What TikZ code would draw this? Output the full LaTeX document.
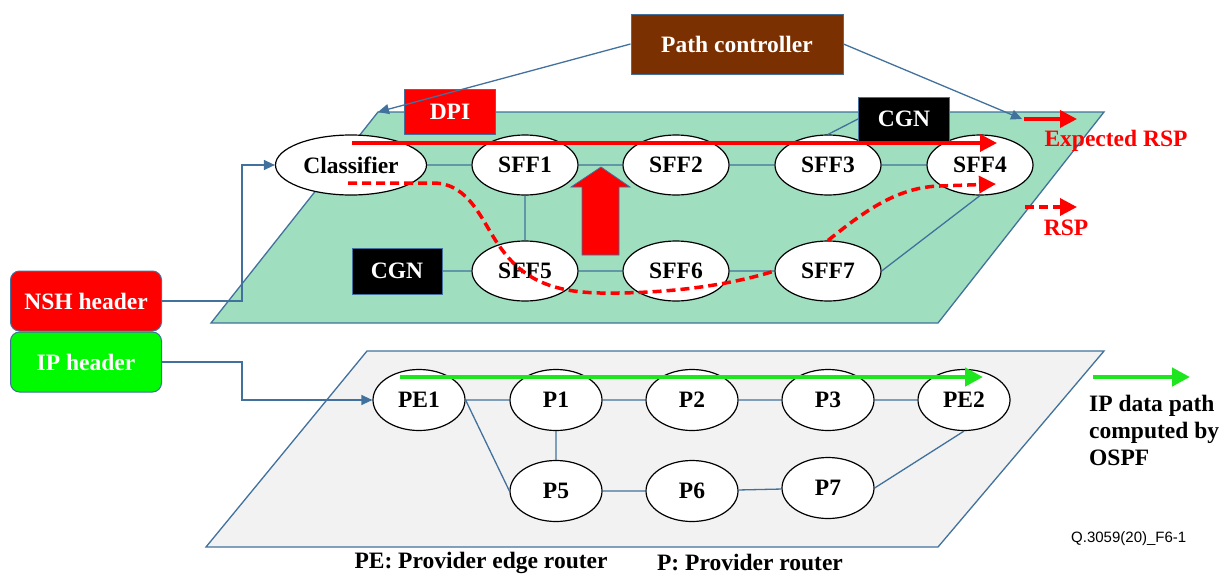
\documentclass[tikz,border=0pt]{standalone}
\usepackage{fontspec}
\setmainfont{Liberation Serif}
\setsansfont{Liberation Sans}
\usetikzlibrary{shapes.geometric}
\usetikzlibrary{arrows.meta}

\definecolor{lnblue}{RGB}{65,113,156}
\definecolor{plgreen}{RGB}{160,222,192}
\definecolor{plgray}{RGB}{242,242,242}
\definecolor{ctrlbrown}{RGB}{122,48,0}
\definecolor{hdrgreen}{RGB}{0,250,0}
\definecolor{pathgreen}{RGB}{30,230,30}

\tikzset{
    every node/.style={font=\fontsize{23.5}{27}\selectfont\bfseries},
    sffnode/.style={ellipse, draw=black, line width=1.2pt, fill=white, minimum width=106pt, minimum height=60pt, inner sep=0pt},
    rtnode/.style={sffnode, minimum width=92pt, minimum height=61pt},
    blk/.style={draw=lnblue, line width=1pt, text=white, minimum width=91pt, minimum height=45pt, inner sep=0pt},
    hdr/.style={draw=lnblue, line width=1pt, rounded corners=9pt, text=white, minimum width=151pt, minimum height=60pt, inner sep=0pt},
    lnk/.style={draw=lnblue, line width=1.3pt},
    lnkarr/.style={lnk, -{Triangle[length=11pt,width=10pt]}},
    rspline/.style={draw=red, line width=3.5pt},
    rsparr/.style={rspline, -{Triangle[length=17pt,width=17pt]}},
    dsh/.style={dash pattern=on 9pt off 5pt},
    iparr/.style={draw=pathgreen, line width=4.5pt, -{Triangle[length=18pt,width=18pt]}}
}

\begin{document}
\begin{tikzpicture}[x=1pt,y=-1pt]
    \useasboundingbox (0,0) rectangle (1223,576);

    \coordinate (gTL) at (378,112);
    \coordinate (gTR) at (1104,112);
    \coordinate (gBR) at (938,323);
    \coordinate (gBL) at (211,323);
    \coordinate (wTL) at (367,351);
    \coordinate (wTR) at (1104,351);
    \coordinate (wBR) at (938,547);
    \coordinate (wBL) at (206,547);
    \filldraw[fill=plgreen, draw=lnblue, line width=1.3pt] (gTL) -- (gTR) -- (gBR) -- (gBL) -- cycle;
    \filldraw[fill=plgray, draw=lnblue, line width=1.3pt] (wTL) -- (wTR) -- (wBR) -- (wBL) -- cycle;

    \node[blk, fill=ctrlbrown, minimum width=212pt, minimum height=60pt] (ctrl) at (737,44) {Path controller};
    \node[hdr, fill=red] (nsh) at (86,301) {NSH header};
    \node[hdr, fill=hdrgreen] (iphdr) at (86,362) {IP header};

    \node[sffnode, minimum width=151pt] (cls) at (351,165) {Classifier};
    \node[sffnode] (sff1) at (525,165) {SFF1};
    \node[sffnode] (sff2) at (676,165) {SFF2};
    \node[sffnode] (sff3) at (828,165) {SFF3};
    \node[sffnode] (sff4) at (980,165) {SFF4};
    \node[sffnode] (sff5) at (525,271) {SFF5};
    \node[sffnode] (sff6) at (676,271) {SFF6};
    \node[sffnode] (sff7) at (828,271) {SFF7};

    \node[rtnode] (pe1) at (419,400) {PE1};
    \node[rtnode] (p1) at (556,400) {P1};
    \node[rtnode] (p2) at (692,400) {P2};
    \node[rtnode] (p3) at (828,400) {P3};
    \node[rtnode] (pe2) at (964,400) {PE2};
    \node[rtnode] (p5) at (556,491) {P5};
    \node[rtnode] (p6) at (692,491) {P6};
    \node[rtnode] (p7) at (828,488) {P7};

    \node[blk, fill=red] (dpi) at (450,112) {DPI};
    \node[blk, fill=black, minimum height=44pt] (cgnT) at (904,119) {CGN};
    \node[blk, fill=black, minimum width=90pt, minimum height=46pt] (cgnB) at (397,271) {CGN};

    \path[lnk] (cls) -- (sff1) (sff1) -- (sff2) (sff2) -- (sff3) (sff3) -- (sff4)
        (sff1) -- (sff5) (sff5) -- (sff6) (sff6) -- (sff7) (sff7.east) -- (sff4.south)
        (cgnB) -- (sff5) (cgnT.west) -- (sff3.north);
    \path[lnk] (pe1) -- (p1) (p1) -- (p2) (p2) -- (p3) (p3) -- (pe2)
        (p1) -- (p5) (pe1.east) -- (p5.west) (p5) -- (p6) (p6) -- (p7) (p7.east) -- (pe2.south);

    \draw[lnkarr] (ctrl.west) -- (gTL);
    \coordinate (ctrlR) at (1022,119);
    \draw[lnkarr] (ctrl.east) -- (ctrlR);
    \draw[lnkarr] (nsh.east) -- ++(80,0) |- (cls.west);
    \draw[lnkarr] (iphdr.east) -- ++(80,0) |- (pe1.west);

    \coordinate (expS) at (352,143);
    \coordinate (expE) at (997,143);
    \draw[rsparr] (expS) -- (expE);
    \coordinate (rspS) at (348,183);
    \coordinate (rspE) at (996,184);
    \draw[rspline, dsh] (rspS) -- (433,183) .. controls (470,183) and (482,222) .. (500,247)
        .. controls (522,278) and (550,292) .. (600,293) .. controls (680,294) and (740,282) .. (sff7.west);
    \draw[rsparr, dsh] (sff7.north) .. controls (860,215) and (895,187) .. (940,186) -- (rspE);
    \filldraw[fill=red, draw=lnblue, line width=0.8pt] (601,167) -- (630,187) -- (619,187) -- (619,255)
        -- (582,255) -- (582,187) -- (571,187) -- cycle;

    \coordinate (ipS) at (400,377);
    \coordinate (ipE) at (983,377);
    \draw[iparr] (ipS) -- (ipE);

    \coordinate (lgA) at (1024,119);
    \coordinate (lgB) at (1077,119);
    \draw[rsparr] (lgA) -- (lgB);
    \node[text=red] (lgexp) at (1116,141) {Expected RSP};
    \coordinate (lgC) at (1025,207);
    \coordinate (lgD) at (1077,207);
    \draw[rsparr, dsh] (lgC) -- (lgD);
    \node[text=red] (lgrsp) at (1066,228) {RSP};
    \coordinate (lgE) at (1093,377);
    \coordinate (lgF) at (1190,377);
    \draw[iparr] (lgE) -- (lgF);
    \node[align=left, anchor=west, inner sep=0pt] (lgip) at (1089,430) {IP data path\\computed by\\OSPF};

    \node (pelbl) at (481,563) {PE: Provider edge router};
    \node (plbl) at (750,563) {P: Provider router};
    \node[font=\sffamily\fontsize{15}{18}\selectfont, anchor=west, inner sep=0pt] (figid) at (1071,539) {Q.3059(20)\_F6-1};
\end{tikzpicture}
\end{document}
